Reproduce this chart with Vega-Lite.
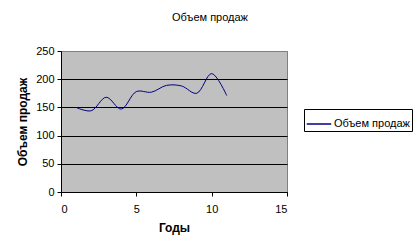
{
  "$schema": "https://vega.github.io/schema/vega-lite/v6.json",
  "autosize": {"type": "none"},
  "padding": {"left": 61, "top": 51, "right": 133, "bottom": 60},
  "width": 226,
  "height": 141,
  "background": "white",
  "title": {"text": "Объем продаж", "font": "Liberation Sans", "fontSize": 11, "fontWeight": "normal", "color": "black", "anchor": "middle", "dx": 36, "offset": 22},
  "config": {
    "view": {"fill": "#C0C0C0", "stroke": "#808080", "strokeWidth": 1},
    "axis": {"labelFont": "Liberation Sans", "labelFontSize": 11, "labelColor": "black", "titleFont": "Liberation Sans", "titleFontSize": 12, "titleFontWeight": "bold", "titleColor": "black", "domainColor": "black", "tickColor": "black", "tickSize": 4}
  },
  "data": {"values": [
    {"year": 1, "sales": 150, "series": "Объем продаж"},
    {"year": 2, "sales": 144, "series": "Объем продаж"},
    {"year": 3, "sales": 168, "series": "Объем продаж"},
    {"year": 4, "sales": 147, "series": "Объем продаж"},
    {"year": 5, "sales": 178, "series": "Объем продаж"},
    {"year": 6, "sales": 177, "series": "Объем продаж"},
    {"year": 7, "sales": 189, "series": "Объем продаж"},
    {"year": 8, "sales": 188, "series": "Объем продаж"},
    {"year": 9, "sales": 175, "series": "Объем продаж"},
    {"year": 10, "sales": 210, "series": "Объем продаж"},
    {"year": 11, "sales": 171, "series": "Объем продаж"}
  ]},
  "mark": {"type": "line", "interpolate": "catmull-rom", "strokeWidth": 1},
  "encoding": {
    "x": {"field": "year", "type": "quantitative", "scale": {"domain": [0, 15], "nice": false}, "axis": {"values": [0, 5, 10, 15], "grid": false, "title": "Годы", "labelPadding": 7, "titlePadding": 8}},
    "y": {"field": "sales", "type": "quantitative", "scale": {"domain": [0, 250], "nice": false}, "axis": {"values": [0, 50, 100, 150, 200, 250], "grid": true, "gridColor": {"condition": {"test": "datum.value === 250", "value": "#808080"}, "value": "black"}, "gridOpacity": 1, "title": "Объем продаж", "labelPadding": 3, "titlePadding": 6}},
    "color": {"field": "series", "type": "nominal", "scale": {"range": ["#000080"]}, "legend": {"title": null, "orient": "none", "legendX": 243, "legendY": 58, "symbolType": "stroke", "symbolSize": 600, "symbolStrokeWidth": 1.5, "labelFont": "Liberation Sans", "labelFontSize": 11, "labelColor": "black", "strokeColor": "black", "fillColor": "white", "padding": 2, "labelOffset": 2}}
  }
}
